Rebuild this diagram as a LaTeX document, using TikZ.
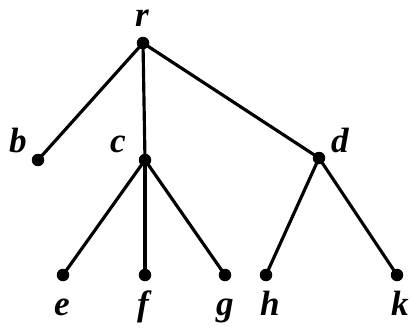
\documentclass[tikz,border=0pt]{standalone}
\usepackage{fontspec}
\setmainfont{Liberation Serif}
\usetikzlibrary{positioning}

\begin{document}
\begin{tikzpicture}[
  vertex/.style={circle, fill=black, inner sep=0pt, minimum size=0.25cm},
  edge/.style={line width=1.8pt},
  lbl/.style={anchor=base, inner sep=0pt, font=\fontsize{20}{20}\selectfont\bfseries\itshape}
]
\useasboundingbox (0,0) rectangle (8.2,6.54);

% vertices
\node[vertex] (r) at (2.86,5.68) {};
\node[vertex] (b) at (0.76,3.34) {};
\node[vertex] (c) at (2.90,3.34) {};
\node[vertex] (d) at (6.38,3.38) {};
\node[vertex] (e) at (1.26,1.04) {};
\node[vertex] (f) at (2.90,1.04) {};
\node[vertex] (g) at (4.50,1.04) {};
\node[vertex] (h) at (5.32,1.04) {};
\node[vertex] (k) at (7.94,1.04) {};

% edges
\draw[edge] (r.center) -- (b.center);
\draw[edge] (r.center) -- (c.center);
\draw[edge] (r.center) -- (d.center);
\draw[edge] (c.center) -- (e.center);
\draw[edge] (c.center) -- (f.center);
\draw[edge] (c.center) -- (g.center);
\draw[edge] (d.center) -- (h.center);
\draw[edge] (d.center) -- (k.center);

% labels
\node[lbl] (rl) at ([shift={(-0.02,0.34)}]r.center) {r};
\node[lbl] (bl) at ([shift={(-0.40,0.16)}]b.center) {b};
\node[lbl] (cl) at ([shift={(-0.54,0.16)}]c.center) {c};
\node[lbl] (dl) at ([shift={(0.42,0.12)}]d.center) {d};
\node[lbl] (el) at ([shift={(-0.02,-0.80)}]e.center) {e};
\node[lbl] (fl) at ([shift={(-0.04,-0.80)}]f.center) {f};
\node[lbl] (gl) at ([shift={(0.00,-0.80)}]g.center) {g};
\node[lbl] (hl) at ([shift={(0.08,-0.80)}]h.center) {h};
\node[lbl] (kl) at ([shift={(0.06,-0.80)}]k.center) {k};

\end{tikzpicture}
\end{document}
